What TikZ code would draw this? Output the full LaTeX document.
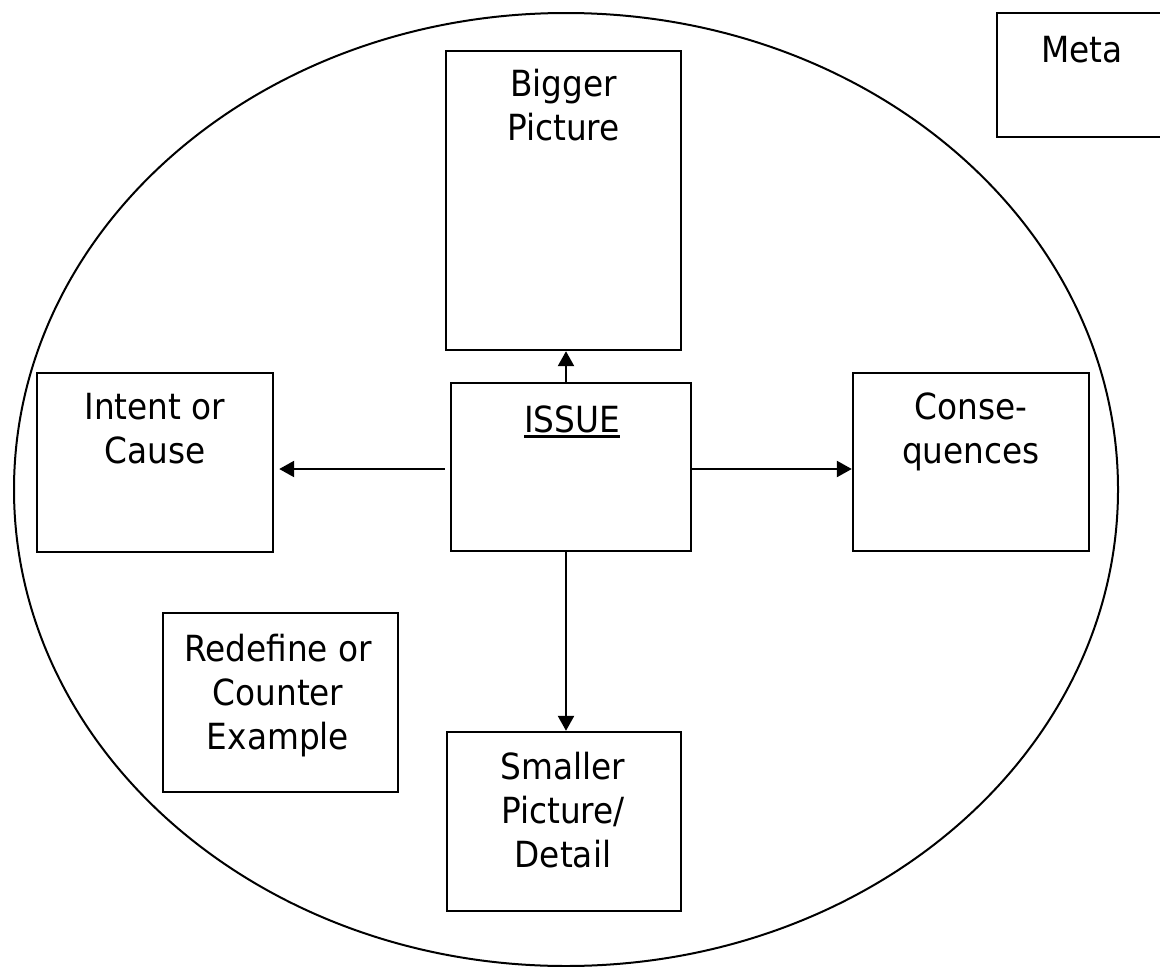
\documentclass[tikz,border=0pt]{standalone}
\usepackage{fontspec}
\setmainfont{DejaVu Sans}[FakeStretch=0.91]
\usetikzlibrary{arrows.meta,fit,calc,shapes.geometric}
\newcommand\myul[1]{\setbox0\hbox{#1}\rlap{\rule[-4.2pt]{\wd0}{1.8pt}}\box0}
\begin{document}
\begin{tikzpicture}[x=0.75pt,y=-0.75pt,
  box/.style={draw=black,line width=1.8pt,inner sep=0pt,rectangle},
  txt/.style={font=\fontsize{27pt}{33pt}\selectfont,align=center,inner sep=0pt,anchor=base},
  arr/.style={line width=1.8pt,-{Triangle[length=11.25pt,width=12pt]}}]
\useasboundingbox (0,0) rectangle (1160,967);
\node[draw=black,line width=1.5pt,ellipse,minimum width=828pt,minimum height=714.75pt,inner sep=0pt] (oval) at (566,489.5) {};
\node[box,fit={(997,13) (1163,137)}] (meta) {};
\node[box,fit={(446,51) (681,350)}] (big) {};
\node[box,fit={(37,373) (273,552)}] (int) {};
\node[box,fit={(451,383) (691,551)}] (iss) {};
\node[box,fit={(853,373) (1089,551)}] (con) {};
\node[box,fit={(163,613) (398,792)}] (red) {};
\node[box,fit={(447,732) (681,911)}] (sml) {};
\node[txt] (tmeta) at (1082,62) {Meta};
\node[txt] (tbig) at ($(big.north)+(0,91)$) {Bigger\\Picture};
\node[txt] (tint) at ($(int.north)+(0,92)$) {Intent or\\Cause};
\node[txt] (tiss) at (572,432) {\myul{ISSUE}};
\node[txt] (tcon) at ($(con.north)+(0,92)$) {Conse-\\quences};
\node[txt] (tred) at (278,749) {Redefine or\\Counter\\Example};
\node[txt] (tsml) at ($(sml.north)+(-1,137)$) {Smaller\\Picture/\\Detail};
\coordinate (vx) at (566,0);
\coordinate (hy) at (0,469);
\draw[arr] (vx |- iss.north) -- (vx |- big.south);
\draw[arr] (vx |- iss.south) -- (vx |- sml.north);
\draw[arr,shorten <=3.75pt,shorten >=3.75pt] (iss.west |- hy) -- (int.east |- hy);
\draw[arr] (iss.east |- hy) -- (con.west |- hy);
\end{tikzpicture}
\end{document}
